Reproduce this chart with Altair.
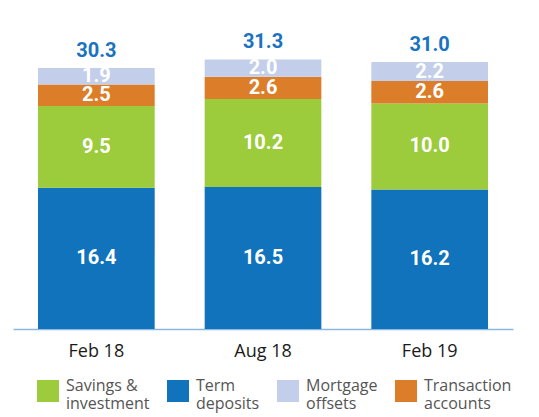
import altair as alt
import pandas as pd

periods = ["Feb 18", "Aug 18", "Feb 19"]
series = ["Term deposits", "Savings & investment", "Transaction accounts", "Mortgage offsets"]
term = [16.4, 16.5, 16.2]
savings = [9.5, 10.2, 10.0]
transaction = [2.5, 2.6, 2.6]
mortgage = [1.9, 2.0, 2.2]
totals = [30.3, 31.3, 31.0]

legend_order = ["Savings & investment", "Term deposits", "Mortgage offsets", "Transaction accounts"]
legend_labels = {"Savings & investment": "Savings &|investment", "Term deposits": "Term|deposits",
                 "Mortgage offsets": "Mortgage|offsets", "Transaction accounts": "Transaction|accounts"}
colors = ["#9ccb3b", "#1173bb", "#c3cfea", "#dc7d2a"]

rows = []
for i, p in enumerate(periods):
    for k, (s, vals) in enumerate(zip(series, [term, savings, transaction, mortgage])):
        rows.append({"period": p, "series": s, "value": vals[i], "order": k,
                     "legend": legend_labels[s]})
df = pd.DataFrame(rows)
tot = pd.DataFrame({"period": periods, "total": totals})

num_font = "Roboto"

x = alt.X("period:N", sort=periods, title=None,
          scale=alt.Scale(paddingInner=0.3, paddingOuter=0.15),
          axis=alt.Axis(labelAngle=0, ticks=False, domainColor="#8ab8e0", domainWidth=1.5,
                        labelFontSize=18, labelColor="#1a1a1a", labelFont="Open Sans",
                        labelPadding=13, grid=False))
yscale = alt.Scale(domain=[0, 36.7], nice=False)

base = alt.Chart(df).transform_stack(
    stack="value", as_=["y0", "y1"], groupby=["period"], sort=[alt.SortField("order")]
).transform_calculate(mid="(datum.y0 + datum.y1) / 2")

bars = base.mark_bar().encode(
    x=x,
    y=alt.Y("y0:Q", scale=yscale, axis=None),
    y2="y1:Q",
    color=alt.Color("legend:N", sort=[legend_labels[s] for s in legend_order],
                    scale=alt.Scale(domain=[legend_labels[s] for s in legend_order], range=colors),
                    legend=alt.Legend(title=None, orient="none", legendX=24, legendY=367,
                                      direction="horizontal", columns=4, symbolType="square",
                                      symbolSize=484, symbolStrokeWidth=0, symbolOpacity=1,
                                      labelExpr="split(datum.label, '|')", labelBaseline="alphabetic",
                                      labelFontSize=16, labelColor="#555555", labelFont="Open Sans",
                                      columnPadding=17, labelOffset=7, padding=0,
                                      labelLimit=200)),
)

seg_text = base.mark_text(font=num_font, fontSize=20, fontWeight="bold", color="white").encode(
    x=x,
    y=alt.Y("mid:Q", scale=yscale, axis=None),
    text=alt.Text("value:Q", format=".1f"),
)

tot_text = alt.Chart(tot).mark_text(font=num_font, fontSize=20, fontWeight="bold",
                                    color="#1a73c0", dy=-17).encode(
    x=x,
    y=alt.Y("total:Q", scale=yscale, axis=None),
    text=alt.Text("total:Q", format=".1f"),
)

chart = alt.layer(bars, seg_text, tot_text).properties(
    width=500, height=316,
    padding={"left": 5, "top": 5, "right": 5, "bottom": 6},
).configure_view(stroke=None)

chart.save("out.html", embed_options={"renderer": "svg", "actions": False})
